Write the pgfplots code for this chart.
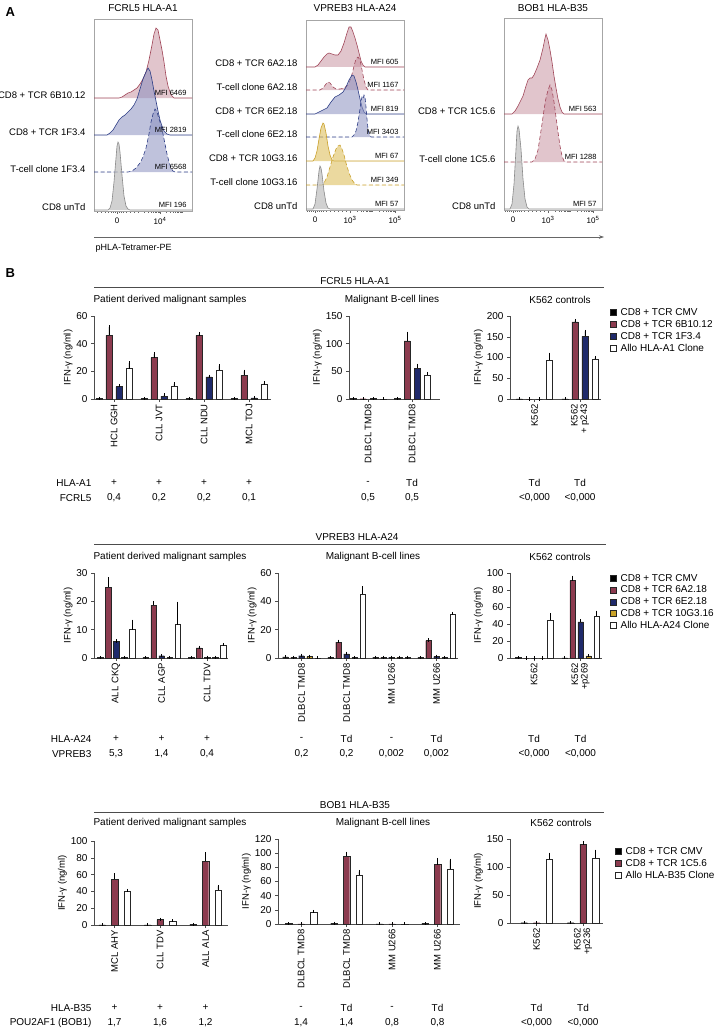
\documentclass[border=0pt]{standalone}
\usepackage{fontspec}
\setmainfont{Liberation Sans}
\usepackage{pgfplots}
\pgfplotsset{compat=1.18}
\usetikzlibrary{arrows.meta}
\definecolor{cR}{HTML}{8C3B4F}
\definecolor{cB}{HTML}{1F2A6B}
\definecolor{cY}{HTML}{C9A227}
\definecolor{hR}{HTML}{A04658}
\definecolor{hRf}{HTML}{C48B9A}
\definecolor{hB}{HTML}{2D3D85}
\definecolor{hBf}{HTML}{8A90C0}
\definecolor{hY}{HTML}{C9A02A}
\definecolor{hYf}{HTML}{DDBF5F}
\definecolor{hG}{HTML}{8A8A8A}
\definecolor{hGf}{HTML}{BDBDBD}
\newcommand{\fs}[1]{\fontsize{#1}{#1}\selectfont}
\newcommand{\bp}[3]{\addplot[fill=#1, bar shift=#2] table[x=x,y=y,y error=e,row sep=\\]{x y e\\#3\\};}
\pgfplotsset{
 /pgf/number format/assume math mode=true,
 barax/.style={scale only axis, ybar, ymin=0, enlargelimits=false, clip=false, anchor=south west,
   axis x line=bottom, axis y line=left, axis line style={-, black!70, line width=0.5pt},
   tick align=outside, major tick length=3pt, tick style={black!70, line width=0.5pt},
   bar width=6pt,
   tick label style={font=\fs{10}},
   xticklabel style={rotate=90, anchor=east, font=\fs{9.5}, align=right, inner sep=2pt},
   ylabel={IFN-γ (ng/ml)}, ylabel style={font=\fs{9.5}}, ylabel shift=-3pt,
   error bars/y dir=plus, error bars/y explicit,
   error bars/error bar style={black, line width=0.4pt},
   error bars/error mark options={black, mark size=1.6pt, line width=0.4pt},
   every axis plot/.append style={draw=black!85, line width=0.4pt},
   legend image code/.code={\draw[#1, draw=black!85, line width=0.4pt] (0pt,-3pt) rectangle (6pt,3pt);},
   legend style={draw=none, fill=none, font=\fs{10}, anchor=north west, at={(1,1)}, inner sep=0pt, row sep=1.5pt, nodes={inner sep=1pt}, cells={anchor=west}, /tikz/every odd column/.append style={column sep=3pt}},
 },
 histax/.style={scale only axis, width=98pt, xmin=0, xmax=98, ymin=0, clip=false, anchor=south west,
   axis line style={black!35, line width=0.5pt}, ytick=\empty, xtick pos=bottom, tick align=outside,
   major tick length=3pt, minor tick length=1.5pt, tick style={black!60, line width=0.4pt},
   tick label style={font=\fs{8}}},
 hred/.style={draw=hR, line width=0.6pt, fill=hRf, fill opacity=0.5},
 hblue/.style={draw=hB, line width=0.6pt, fill=hBf, fill opacity=0.55},
 hyel/.style={draw=hY, line width=0.6pt, fill=hYf, fill opacity=0.6},
 hgrey/.style={draw=hG, line width=0.6pt, fill=hGf, fill opacity=0.7},
 dsh/.style={dash pattern=on 4pt off 2.5pt},
}
\newcommand{\hl}[2]{\node[anchor=base east, font=\fs{9.5}, xshift=-5pt] at (axis cs:0,#1) {#2};}
\newcommand{\mfi}[2]{\node[anchor=base east, font=\fs{7.5}, yshift=2.5pt] at (axis cs:96,#1) {#2};}
\begin{document}
\begin{tikzpicture}
\useasboundingbox (0,0) rectangle (718pt,-1030pt);
% ---------------- Panel A ----------------
\node[anchor=west, font=\bfseries\fs{13}] at (2pt,-12pt) {A};
\node[font=\fs{10}] at (143pt,-8pt) {FCRL5 HLA-A1};
\node[font=\fs{10}] at (355pt,-8pt) {VPREB3 HLA-A24};
\node[font=\fs{10}] at (553pt,-8pt) {BOB1 HLA-B35};
\draw[-{Stealth[length=5pt,width=3.5pt]}, black!60, line width=0.6pt] (94pt,-237pt) -- (604pt,-237pt);
\node[anchor=west, font=\fs{9}] at (92pt,-248pt) {pHLA-Tetramer-PE};

\begin{axis}[histax, at={(94pt,-211pt)}, height=192pt, ymax=192,
  xtick={23,66}, xticklabels={0,10\textsuperscript{4}},
  minor xtick={3,7,11,14,17,19,21,25,27,29,32,36,40,44,50.6,54.5,57.2,59.4,61.1,62.6,63.9,65,72.6,76.5,79.2,81.4,83.1,84.6,85.9,87,88}]
\addplot[hred] table[x=x, y expr=\thisrow{h}+113, row sep=\\]{x h\\0 0\\25 0\\28 1\\31 3\\34 5\\37 6\\40 8\\43 10\\46 14\\49 19\\52 26\\55 38\\58 53\\60 64\\62 70\\64 68\\66 58\\68 48\\70 36\\72 22\\74 12\\76 6\\78 2\\80 0\\98 0\\};
\addplot[hblue] table[x=x, y expr=\thisrow{h}+76, row sep=\\]{x h\\0 0\\13 0\\16 2\\19 5\\22 10\\25 15\\28 18\\31 20\\34 23\\37 26\\40 30\\43 36\\46 46\\49 56\\52 63\\54 67\\56 64\\58 55\\60 44\\62 34\\64 24\\66 15\\68 9\\70 4\\73 1\\76 0\\98 0\\};
\addplot[hblue, dsh] table[x=x, y expr=\thisrow{h}+39, row sep=\\]{x h\\0 0\\34 0\\38 1\\42 4\\46 9\\49 15\\52 24\\55 38\\57 50\\59 58\\61 63\\63 60\\65 53\\67 47\\69 38\\71 28\\73 18\\75 10\\77 4\\79 1\\81 0\\98 0\\};
\addplot[hgrey] table[x=x, y expr=\thisrow{h}+1, row sep=\\]{x h\\0 0\\14 0\\16 2\\18 9\\20 28\\22 52\\23 64\\24 68\\25 66\\26 58\\28 35\\30 14\\32 4\\34 1\\36 0\\98 0\\};
\hl{113}{CD8 + TCR 6B10.12}\hl{76}{CD8 + TCR 1F3.4}\hl{39}{T-cell clone 1F3.4}\hl{1}{CD8 unTd}
\mfi{113}{MFI 6469}\mfi{76}{MFI 2819}\mfi{39}{MFI 6568}\mfi{1}{MFI 196}
\end{axis}

\begin{axis}[histax, at={(306pt,-210pt)}, height=190pt, ymax=190,
  xtick={9,44,89}, xticklabels={0,10\textsuperscript{3},10\textsuperscript{5}},
  minor xtick={1,3,5,7,11,13,15,17,20,24,28,32,36,40,50.8,54.7,57.5,59.7,61.5,63,64.3,65.5,66.5,73.3,77.2,80,82.2,84,85.5,86.8,88}]
\addplot[hred] table[x=x, y expr=\thisrow{h}+143, row sep=\\]{x h\\0 0\\9 0\\12 2\\15 6\\18 10\\21 13\\23 14\\26 13\\29 12\\32 12\\35 16\\38 24\\41 34\\43 40\\45 40\\47 35\\49 29\\51 22\\53 14\\55 6\\57 2\\59 0\\98 0\\};
\addplot[hred, dsh] table[x=x, y expr=\thisrow{h}+120, row sep=\\]{x h\\0 0\\14 0\\17 2\\20 6\\22 8\\24 7\\27 3\\30 1\\34 1\\38 2\\42 5\\45 12\\48 24\\50 31\\52 33\\54 30\\56 20\\58 10\\60 3\\62 0\\98 0\\};
\addplot[hblue] table[x=x, y expr=\thisrow{h}+96, row sep=\\]{x h\\0 0\\9 0\\13 2\\17 4\\21 6\\25 12\\29 17\\33 19\\37 22\\40 27\\43 34\\46 39\\48 38\\50 32\\52 24\\54 15\\56 7\\58 2\\60 0\\98 0\\};
\addplot[hblue, dsh] table[x=x, y expr=\thisrow{h}+73, row sep=\\]{x h\\0 0\\46 0\\48 2\\50 6\\52 15\\54 28\\55 36\\56 40\\57 38\\58 42\\59 40\\60 30\\61 18\\62 8\\63 3\\65 0\\98 0\\};
\addplot[hyel] table[x=x, y expr=\thisrow{h}+49, row sep=\\]{x h\\0 0\\7 0\\9 3\\11 10\\13 22\\15 33\\17 38\\18 37\\20 28\\22 15\\24 6\\26 1\\28 0\\98 0\\};
\addplot[hyel, dsh] table[x=x, y expr=\thisrow{h}+25, row sep=\\]{x h\\0 0\\16 0\\18 2\\21 8\\24 18\\27 28\\30 36\\32 39\\34 40\\36 36\\38 30\\40 22\\43 12\\46 5\\49 1\\51 0\\98 0\\};
\addplot[hgrey] table[x=x, y expr=\thisrow{h}+1, row sep=\\]{x h\\0 0\\7 0\\9 5\\11 20\\13 38\\14 43\\15 41\\16 35\\18 18\\20 6\\22 1\\24 0\\98 0\\};
\hl{143}{CD8 + TCR 6A2.18}\hl{120}{T-cell clone 6A2.18}\hl{96}{CD8 + TCR 6E2.18}\hl{73}{T-cell clone 6E2.18}\hl{49}{CD8 + TCR 10G3.16}\hl{25}{T-cell clone 10G3.16}\hl{1}{CD8 unTd}
\mfi{143}{MFI 605}\mfi{120}{MFI 1167}\mfi{96}{MFI 819}\mfi{73}{MFI 3403}\mfi{49}{MFI 67}\mfi{25}{MFI 349}\mfi{1}{MFI 57}
\end{axis}

\begin{axis}[histax, at={(504pt,-210pt)}, height=192pt, ymax=192,
  xtick={9,44,89}, xticklabels={0,10\textsuperscript{3},10\textsuperscript{5}},
  minor xtick={1,3,5,7,11,13,15,17,20,24,28,32,36,40,50.8,54.7,57.5,59.7,61.5,63,64.3,65.5,66.5,73.3,77.2,80,82.2,84,85.5,86.8,88}]
\addplot[hred] table[x=x, y expr=\thisrow{h}+96, row sep=\\]{x h\\0 0\\8 0\\11 3\\14 8\\17 14\\19 18\\22 28\\24 34\\26 36\\28 36\\30 39\\33 46\\36 54\\39 66\\41 76\\42 80\\44 74\\46 64\\48 52\\50 38\\52 26\\54 15\\56 7\\58 2\\60 0\\98 0\\};
\addplot[hred, dsh] table[x=x, y expr=\thisrow{h}+48, row sep=\\]{x h\\0 0\\28 0\\31 3\\34 12\\36 25\\38 38\\40 52\\42 64\\44 72\\46 77\\48 72\\50 60\\52 45\\54 30\\56 16\\58 6\\60 1\\62 0\\98 0\\};
\addplot[hgrey] table[x=x, y expr=\thisrow{h}+1, row sep=\\]{x h\\0 0\\6 0\\8 5\\10 25\\12 60\\13 78\\14 83\\15 80\\17 60\\19 30\\21 10\\23 2\\25 0\\98 0\\};
\hl{96}{CD8 + TCR 1C5.6}\hl{48}{T-cell clone 1C5.6}\hl{1}{CD8 unTd}
\mfi{96}{MFI 563}\mfi{48}{MFI 1288}\mfi{1}{MFI 57}
\end{axis}

% ---------------- Panel B ----------------
\node[anchor=west, font=\bfseries\fs{13}] at (2pt,-273pt) {B};
% Row 1
\node[font=\fs{10}] at (355pt,-281pt) {FCRL5 HLA-A1};
\draw[black!70, line width=0.6pt] (94pt,-287pt) -- (604pt,-287pt);
\node[font=\fs{10}] at (170pt,-300pt) {Patient derived malignant samples};
\node[font=\fs{10}] at (392pt,-300pt) {Malignant B-cell lines};
\node[font=\fs{10}] at (560pt,-300pt) {K562 controls};

\begin{axis}[barax, at={(94pt,-399pt)}, width=177pt, height=83pt, xmin=-0.444, xmax=3.489, ymax=60, ytick={0,20,40,60},
  xtick={0,1,2,3}, xticklabels={HCL GGH,CLL JVT,CLL NDU,MCL TOJ}]
\bp{black}{-15pt}{0 0.3 0\\1 0.3 0\\2 0.3 0\\3 0.3 0}
\bp{cR}{-5pt}{0 46 6\\1 30 2.5\\2 46 1\\3 17 3}
\bp{cB}{5pt}{0 9 0.5\\1 2 1\\2 16 0.5\\3 0.8 0.2}
\bp{white}{15pt}{0 22 4\\1 9.5 1.5\\2 21 3\\3 11 0.5}
\end{axis}
\begin{axis}[barax, at={(349pt,-399pt)}, width=91pt, height=83pt, xmin=-0.432, xmax=1.636, ymax=150, ytick={0,50,100,150},
  xtick={0,1}, xticklabels={DLBCL TMD8,DLBCL TMD8}]
\bp{black}{-15pt}{0 0.8 0\\1 0.8 0}
\bp{cR}{-5pt}{0 0.5 0\\1 105 14}
\bp{cB}{5pt}{0 1 0\\1 56 5}
\bp{white}{15pt}{0 0.3 0\\1 43 3}
\end{axis}
\begin{axis}[barax, at={(510pt,-399pt)}, width=91pt, height=83pt, xmin=-0.538, xmax=1.462, ymax=200, ytick={0,50,100,150,200},
  xtick={0,1}, xticklabels={K562,{K562\\+ p243}},
  legend style={xshift=9pt, yshift=9pt}]
\bp{black}{-15pt}{0 0.5 0\\1 0.5 0}
\bp{cR}{-5pt}{0 0 0\\1 186 3}
\bp{cB}{5pt}{0 0 0\\1 151 12}
\bp{white}{15pt}{0 94 14\\1 96 4}
\legend{CD8 + TCR CMV,CD8 + TCR 6B10.12,CD8 + TCR 1F3.4,Allo HLA-A1 Clone}
\end{axis}
\begin{scope}[font=\fs{10}]
\node[anchor=east] at (95pt,-483pt) {HLA-A1};
\node[anchor=east] at (95pt,-498pt) {FCRL5};
\foreach \x/\a/\b in {114/+/{0,4},159/+/{0,2},204/+/{0,2},249/+/{0,1},368/-/{0,5},412/Td/{0,5},534.5/Td/{\textless0,000},580/Td/{\textless0,000}}{
  \node at (\x pt,-483pt) {\a}; \node at (\x pt,-498pt) {\b};}
\end{scope}

% Row 2
\node[font=\fs{10}] at (357pt,-537pt) {VPREB3 HLA-A24};
\draw[black!70, line width=0.6pt] (94pt,-544pt) -- (606pt,-544pt);
\node[font=\fs{10}] at (170pt,-557pt) {Patient derived malignant samples};
\node[font=\fs{10}] at (373pt,-557pt) {Malignant B-cell lines};
\node[font=\fs{10}] at (560pt,-557pt) {K562 controls};

\begin{axis}[barax, bar width=5.5pt, at={(94pt,-658pt)}, width=134pt, height=85pt, xmin=-0.484, xmax=2.462, ymax=30, ytick={0,10,20,30},
  xtick={0,1,2}, xticklabels={ALL CKQ,CLL AGP,CLL TDV}]
\bp{black}{-16pt}{0 0.2 0\\1 0.2 0\\2 0.2 0}
\bp{cR}{-8pt}{0 25 3\\1 18.7 0.9\\2 3.6 0.2}
\bp{cB}{0pt}{0 5.8 0.2\\1 0.8 0.1\\2 0.3 0}
\bp{cY}{8pt}{0 0.2 0\\1 0.2 0\\2 0.3 0}
\bp{white}{16pt}{0 10 3\\1 11.8 7.5\\2 4.6 0.2}
\end{axis}
\begin{axis}[barax, bar width=5.5pt, at={(278pt,-658pt)}, width=180pt, height=85pt, xmin=-0.522, xmax=3.478, ymax=60, ytick={0,20,40,60},
  xtick={0,1,2,3}, xticklabels={DLBCL TMD8,DLBCL TMD8,MM U266,MM U266}]
\bp{black}{-16pt}{0 0.8 0\\1 0.3 0\\2 0.5 0\\3 0.3 0}
\bp{cR}{-8pt}{0 0.5 0\\1 11.3 0.5\\2 0.5 0\\3 12.3 0.4}
\bp{cB}{0pt}{0 1.6 0.3\\1 3 0.3\\2 0.6 0\\3 1 0.2}
\bp{cY}{8pt}{0 1 0.3\\1 0.3 0\\2 0.5 0\\3 0.3 0}
\bp{white}{16pt}{0 0.2 0\\1 45 4.5\\2 0.5 0\\3 31 0.5}
\end{axis}
\begin{axis}[barax, bar width=5.5pt, at={(510pt,-658pt)}, width=92pt, height=85pt, xmin=-0.516, xmax=1.462, ymax=100, ytick={0,20,40,60,80,100},
  xtick={0,1}, xticklabels={K562,{K562\\+p269}},
  legend style={xshift=8pt, yshift=0pt, row sep=1.2pt}]
\bp{black}{-16pt}{0 0.5 0\\1 0.3 0}
\bp{cR}{-8pt}{0 0 0\\1 91 4}
\bp{cB}{0pt}{0 0 0\\1 42.5 1.5}
\bp{cY}{8pt}{0 0 0\\1 2.5 0.3}
\bp{white}{16pt}{0 45 5.5\\1 49 5}
\legend{CD8 + TCR CMV,CD8 + TCR 6A2.18,CD8 + TCR 6E2.18,CD8 + TCR 10G3.16,Allo HLA-A24 Clone}
\end{axis}
\begin{scope}[font=\fs{10}]
\node[anchor=east] at (95pt,-739pt) {HLA-A24};
\node[anchor=east] at (95pt,-754pt) {VPREB3};
\foreach \x/\a/\b in {116/+/{5,3},161.5/+/{1,4},207/+/{0,4},301.5/-/{0,2},346.5/Td/{0,2},391.5/-/{0,002},436.5/Td/{0,002},534/Td/{\textless0,000},580.5/Td/{\textless0,000}}{
  \node at (\x pt,-739pt) {\a}; \node at (\x pt,-754pt) {\b};}
\end{scope}

% Row 3
\node[font=\fs{10}] at (355pt,-805pt) {BOB1 HLA-B35};
\draw[black!70, line width=0.6pt] (94pt,-812pt) -- (604pt,-812pt);
\node[font=\fs{10}] at (170pt,-823pt) {Patient derived malignant samples};
\node[font=\fs{10}] at (383pt,-823pt) {Malignant B-cell lines};
\node[font=\fs{10}] at (561pt,-823pt) {K562 controls};

\begin{axis}[barax, bar width=6.5pt, at={(94pt,-925pt)}, width=134pt, height=84pt, xmin=-0.451, xmax=2.495, ymax=100, ytick={0,20,40,60,80,100},
  xtick={0,1,2}, xticklabels={MCL AHY,CLL TDV,ALL ALA}]
\bp{black}{-12.5pt}{0 0.2 0\\1 0.2 0\\2 0.5 0}
\bp{cR}{0pt}{0 54.5 5.5\\1 6.5 0.3\\2 76 9}
\bp{white}{12.5pt}{0 40 1.2\\1 4.7 0.3\\2 42 4}
\end{axis}
\begin{axis}[barax, bar width=6.5pt, at={(278pt,-924pt)}, width=182pt, height=85pt, xmin=-0.505, xmax=3.495, ymax=120, ytick={0,20,40,60,80,100,120},
  xtick={0,1,2,3}, xticklabels={DLBCL TMD8,DLBCL TMD8,MM U266,MM U266}]
\bp{black}{-12.5pt}{0 0.5 0\\1 1 0\\2 0.3 0\\3 0.5 0}
\bp{cR}{0pt}{0 0.3 0\\1 95.5 4.5\\2 0.3 0\\3 84 7}
\bp{white}{12.5pt}{0 17 0.8\\1 69.6 4.4\\2 0.3 0\\3 77 13}
\end{axis}
\begin{axis}[barax, bar width=6.5pt, at={(510pt,-923pt)}, width=93pt, height=84pt, xmin=-0.57, xmax=1.43, ymax=150, ytick={0,50,100,150},
  xtick={0,1}, xticklabels={K562,{K562\\+p236}},
  legend style={xshift=12pt, yshift=-7pt}]
\bp{black}{-12.5pt}{0 0.5 0\\1 0.5 0}
\bp{cR}{0pt}{0 0.5 0\\1 141 2}
\bp{white}{12.5pt}{0 114 9\\1 116 12}
\legend{CD8 + TCR CMV,CD8 + TCR 1C5.6,Allo HLA-B35 Clone}
\end{axis}
\begin{scope}[font=\fs{10}]
\node[anchor=east] at (95pt,-1008pt) {HLA-B35};
\node[anchor=east] at (95pt,-1023pt) {POU2AF1 (BOB1)};
\foreach \x/\a/\b in {114.5/+/{1,7},160/+/{1,6},205.5/+/{1,2},301/-/{1,4},346.5/Td/{1,4},392/-/{0,8},437.5/Td/{0,8},536.5/Td/{\textless0,000},583/Td/{\textless0,000}}{
  \node at (\x pt,-1008pt) {\a}; \node at (\x pt,-1023pt) {\b};}
\end{scope}
\end{tikzpicture}
\end{document}
